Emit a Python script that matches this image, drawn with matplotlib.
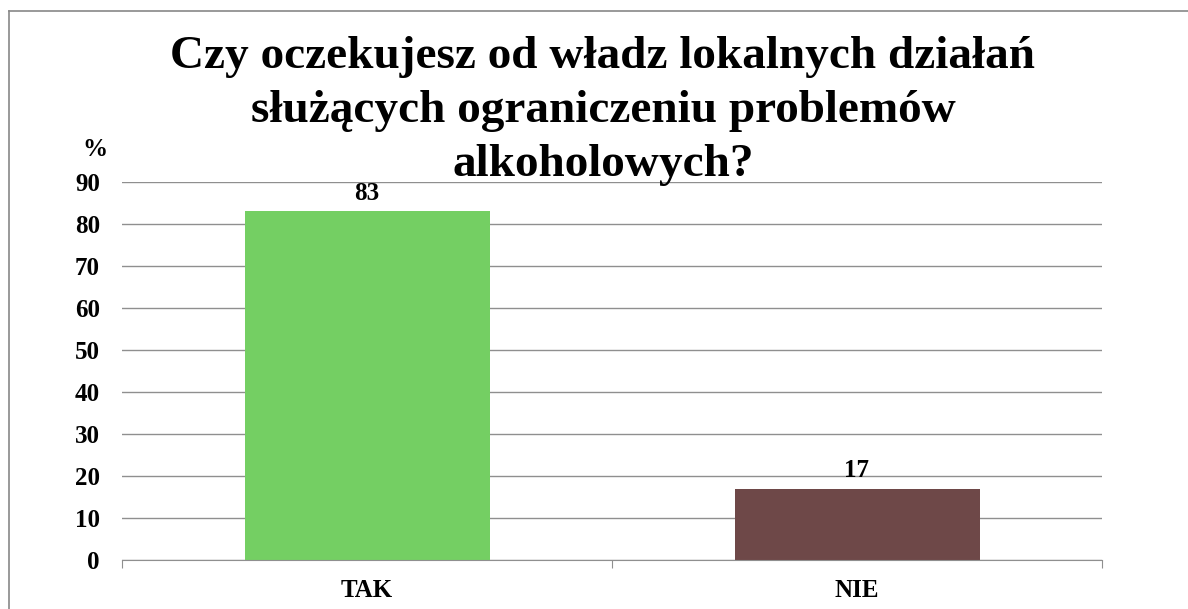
import matplotlib
matplotlib.use("Agg")
import matplotlib.pyplot as plt
from matplotlib.lines import Line2D

categories = ["TAK", "NIE"]
values = [83, 17]
bar_colors = ["#74CF63", "#6E4848"]
yticks = [0, 10, 20, 30, 40, 50, 60, 70, 80, 90]
title_lines = ["Czy oczekujesz od władz lokalnych działań",
               "służących ograniczeniu problemów",
               "alkoholowych?"]

plt.rcParams['font.family'] = ['Liberation Serif', 'DejaVu Serif']

fig = plt.figure(figsize=(11.88, 6.09), dpi=100)
W, H = 1188, 609
ax = fig.add_axes([122 / W, 1 - 560 / H, (1102 - 122) / W, (560 - 182) / H])

x = list(range(len(categories)))
ax.bar(x, values, width=0.5, color=bar_colors, zorder=2)
ax.set_xlim(-0.5, len(categories) - 0.5)
ax.set_ylim(0, 90)
ax.set_yticks(yticks)
ax.set_yticklabels([str(t) for t in yticks], fontsize=18, fontweight='bold')
ax.yaxis.grid(True, color='#8f8f8f', linewidth=1.0, zorder=0)
ax.set_axisbelow(True)
for s in ['left', 'right', 'top']:
    ax.spines[s].set_visible(False)
ax.spines['bottom'].set_color('#8f8f8f')
ax.tick_params(axis='y', length=0, pad=16)

# category boundary ticks
ax.set_xticks([-0.5, 0.5, 1.5])
ax.set_xticklabels([])
ax.tick_params(axis='x', length=6, color='#8f8f8f', direction='out')
for xi, c in zip(x, categories):
    ax.text(xi, -4.5, c, ha='center', va='top', fontsize=18, fontweight='bold')

for xi, v in zip(x, values):
    ax.text(xi, v + 1.5, str(v), ha='center', va='bottom', fontsize=18, fontweight='bold')

for line, yb in zip(title_lines, [68, 122, 176]):
    fig.text(603 / W, 1 - yb / H, line, ha='center', va='baseline', fontsize=34,
             fontweight='bold')
fig.text(95 / W, 1 - 150 / H, "%", ha='center', va='center', fontsize=18, fontweight='bold')

# frame lines (left and top)
fig.add_artist(Line2D([9 / W, 9 / W], [0, 1 - 11 / H], transform=fig.transFigure,
                      color='#888888', linewidth=1.2))
fig.add_artist(Line2D([9 / W, 1], [1 - 11 / H, 1 - 11 / H], transform=fig.transFigure,
                      color='#888888', linewidth=1.2))

fig.savefig("out.png", dpi=100)
